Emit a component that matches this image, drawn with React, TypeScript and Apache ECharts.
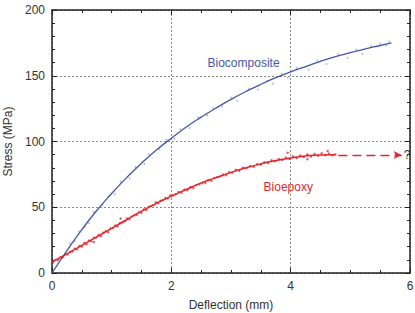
import React, { useEffect, useRef } from "react";
import * as echarts from "echarts";

// Fitted curves (deflection mm, stress MPa)
const bioCompX = [0, 0.25, 0.5, 0.75, 1.0, 1.25, 1.5, 1.75, 2.0, 2.25, 2.5, 2.75, 3.0, 3.25, 3.5, 3.75, 4.0, 4.25, 4.5, 4.75, 5.0, 5.25, 5.5, 5.69];
const bioCompY = [0, 17, 33, 47.5, 60.5, 72.5, 83.5, 93.5, 102.5, 111, 118.5, 125.5, 132, 138, 143.5, 148.5, 153, 157, 161, 164.5, 167.5, 170.5, 173, 175];

const bioEpoxyX = [0, 0.25, 0.5, 0.75, 1.0, 1.25, 1.5, 1.75, 2.0, 2.25, 2.5, 2.75, 3.0, 3.25, 3.5, 3.75, 4.0, 4.25, 4.5, 4.75];
const bioEpoxyY = [8.5, 14.5, 21, 27.5, 34, 40.5, 47, 53, 58.5, 63.5, 68.5, 72.5, 76.5, 80, 83, 85.5, 87.5, 89, 89.8, 90];

// Measured points
const bioCompPoints: [number, number][] = [
  [0.1, 9.5], [0.2, 12.0], [0.3, 22.5], [0.38, 24.0], [0.45, 31.5], [0.55, 35.0], [0.62, 38.0],
  [0.7, 46.5], [0.85, 52.0], [0.95, 58.5], [1.05, 60.0], [1.15, 69.5], [1.3, 72.0], [1.4, 80.5],
  [1.55, 83.0], [1.62, 90.5], [1.8, 94.0], [1.92, 101.5], [2.05, 102.0], [2.15, 109.5], [2.3, 110.5],
  [2.45, 118.5], [2.6, 120.0], [2.7, 125.5], [2.85, 126.5], [3.0, 133.5], [3.1, 131.0], [3.3, 140.0],
  [3.45, 139.5], [3.6, 146.0], [3.7, 144.0], [3.85, 151.5], [3.95, 148.5], [4.1, 156.0], [4.3, 154.5],
  [4.45, 161.5], [4.6, 159.0], [4.8, 166.5], [4.95, 163.5], [5.1, 170.0], [5.2, 166.5], [5.35, 172.5],
  [5.5, 174.5], [5.6, 173.0], [5.65, 176.0],
];

const bioEpoxyPoints: [number, number][] = [
  [0.02, 8.2], [0.06, 9.8], [0.1, 10.3], [0.14, 11.9], [0.18, 12.1], [0.22, 14.2], [0.26, 14.0],
  [0.3, 16.1], [0.34, 16.4], [0.38, 18.5], [0.42, 18.0], [0.46, 20.6], [0.5, 20.2], [0.54, 22.8],
  [0.58, 21.9], [0.62, 24.6], [0.66, 24.1], [0.7, 26.8], [0.74, 27.0], [0.78, 28.9], [0.82, 28.2],
  [0.86, 30.7], [0.9, 31.8], [0.94, 31.0], [0.98, 33.9], [1.02, 34.2], [1.06, 36.1], [1.1, 35.4],
  [1.14, 37.9], [1.18, 38.6], [1.22, 39.3], [1.26, 41.5], [1.3, 40.8], [1.34, 43.0], [1.38, 43.9],
  [1.42, 44.3], [1.46, 46.2], [1.5, 45.8], [1.54, 48.4], [1.58, 48.0], [1.62, 50.3], [1.66, 50.9],
  [1.7, 51.6], [1.74, 53.7], [1.78, 53.1], [1.82, 55.0], [1.86, 55.4], [1.9, 57.0], [1.94, 56.6],
  [1.98, 58.9], [2.02, 58.9], [2.07, 59.9], [2.12, 61.6], [2.17, 61.1], [2.22, 63.4], [2.27, 63.0],
  [2.32, 65.3], [2.37, 64.7], [2.42, 66.9], [2.47, 67.4], [2.52, 68.5], [2.57, 68.4], [2.62, 70.6],
  [2.67, 70.1], [2.72, 72.3], [2.77, 72.9], [2.82, 73.6], [2.87, 74.9], [2.92, 74.4], [2.97, 76.6],
  [3.02, 76.2], [3.08, 78.4], [3.14, 77.8], [3.2, 80.1], [3.26, 79.6], [3.32, 81.4], [3.38, 80.8],
  [3.44, 82.9], [3.5, 82.4], [3.56, 84.2], [3.62, 83.7], [3.68, 85.7], [3.74, 84.9], [3.8, 86.6],
  [3.86, 86.0], [3.92, 87.8], [3.98, 86.8], [4.04, 88.7], [4.1, 87.5], [4.16, 89.3], [4.22, 88.2],
  [4.28, 90.2], [4.34, 88.6], [4.4, 90.6], [4.46, 89.2], [4.52, 91.0], [4.58, 89.5], [4.64, 90.8],
  [4.7, 89.6], [4.75, 90.2], [3.95, 91.5], [4.28, 86.5], [4.62, 92.8], [1.15, 41.5], [0.7, 23.5],
];

// Extrapolation arrow beyond the last bioepoxy reading
const arrowStart: [number, number] = [4.8, 89.7];
const arrowEnd: [number, number] = [5.86, 89.7];

const xTicks = [0, 2, 4, 6];
const yTicks = [0, 50, 100, 150, 200];

const BLUE = "#4657a8";
const BLUE_PT = "#93a6d8";
const RED = "#e3262d";
const FONT = "Liberation Sans, Arial, Helvetica, sans-serif";

export default function App() {
  const ref = useRef<HTMLDivElement>(null);

  useEffect(() => {
    if (!ref.current) return;
    const chart = echarts.init(ref.current, undefined, { renderer: "svg" });

    const gridLine = { show: true, lineStyle: { color: "#8a8a8a", type: [2, 2] as number[], width: 1 } };
    const axisLine = { show: true, onZero: false, lineStyle: { color: "#222", width: 1.5 } };
    const tick = { show: true, inside: true, length: 5, lineStyle: { color: "#222", width: 1 } };
    const minor = (n: number) => ({ show: true, splitNumber: n, length: 3, lineStyle: { color: "#222", width: 1 } });
    const labelStyle = { color: "#333", fontSize: 12, fontFamily: FONT };

    const xMin = xTicks[0], xMax = xTicks[xTicks.length - 1];
    const yMin = yTicks[0], yMax = yTicks[yTicks.length - 1];

    chart.setOption({
      animation: false,
      textStyle: { fontFamily: FONT },
      grid: { left: 52, right: 5, top: 10, bottom: 40, containLabel: false, outerBoundsMode: "none" },
      xAxis: [
        {
          type: "value", min: xMin, max: xMax, interval: 2, position: "bottom",
          name: "Deflection (mm)", nameLocation: "middle", nameGap: 26,
          nameTextStyle: { color: "#333", fontSize: 12, fontFamily: FONT },
          axisLine, axisTick: tick, minorTick: minor(4),
          axisLabel: { ...labelStyle, margin: 7 },
          splitLine: gridLine,
        },
        {
          type: "value", min: xMin, max: xMax, interval: 2, position: "top",
          axisLine, axisTick: tick, minorTick: minor(4),
          axisLabel: { show: false }, splitLine: { show: false },
        },
      ],
      yAxis: [
        {
          type: "value", min: yMin, max: yMax, interval: 50, position: "left",
          name: "Stress (MPa)", nameLocation: "middle", nameGap: 35,
          nameTextStyle: { color: "#333", fontSize: 12, fontFamily: FONT },
          axisLine, axisTick: tick, minorTick: minor(5),
          axisLabel: { ...labelStyle, margin: 7 },
          splitLine: gridLine,
        },
        {
          type: "value", min: yMin, max: yMax, interval: 50, position: "right",
          axisLine, axisTick: tick, minorTick: minor(5),
          axisLabel: { show: false }, splitLine: { show: false },
        },
      ],
      series: [
        {
          type: "scatter", name: "Biocomposite points", data: bioCompPoints,
          symbol: "circle", symbolSize: 1.8, itemStyle: { color: BLUE_PT }, z: 2,
        },
        {
          type: "scatter", name: "Bioepoxy points", data: bioEpoxyPoints,
          symbol: "circle", symbolSize: 2.4, itemStyle: { color: RED }, z: 2,
        },
        {
          type: "line", name: "Biocomposite",
          data: bioCompX.map((x, i) => [x, bioCompY[i]]),
          smooth: 0.5, showSymbol: false, lineStyle: { color: BLUE, width: 1.3 }, z: 3,
          markPoint: {
            symbol: "circle", symbolSize: 0, silent: true,
            label: { show: true, position: "inside", formatter: "Biocomposite", color: BLUE, fontSize: 12, fontFamily: FONT },
            data: [{ coord: [3.21, 159.5] }],
          },
        },
        {
          type: "line", name: "Bioepoxy",
          data: bioEpoxyX.map((x, i) => [x, bioEpoxyY[i]]),
          smooth: 0.5, showSymbol: false, lineStyle: { color: RED, width: 1.5 }, z: 3,
          markPoint: {
            symbol: "circle", symbolSize: 0, silent: true,
            label: { show: true, position: "inside", color: RED, fontSize: 12, fontFamily: FONT, formatter: (p: any) => p.name },
            data: [{ name: "Bioepoxy", coord: [3.96, 65.5] }],
          },
          markLine: {
            silent: true, symbol: ["none", "arrow"], symbolSize: [6, 8],
            lineStyle: { color: RED, type: [9, 5], width: 1.3 },
            label: { show: true, position: "end", formatter: "?", color: "#333", fontSize: 12, fontFamily: FONT, distance: 2 },
            data: [[{ coord: arrowStart }, { coord: arrowEnd }]],
          },
        },
      ],
    });

    return () => chart.dispose();
  }, []);

  return <div ref={ref} style={{ position: "fixed", left: 0, top: 0, width: 415, height: 313, background: "#fff" }} />;
}
